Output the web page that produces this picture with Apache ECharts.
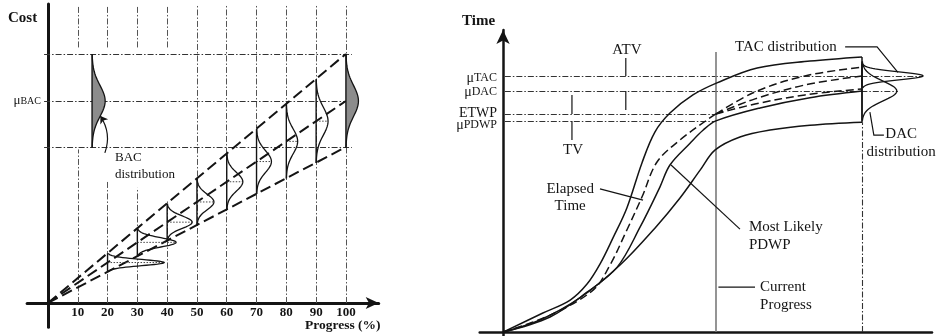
<!DOCTYPE html>
<html>
<head>
<meta charset="utf-8">
<script src="https://cdn.jsdelivr.net/npm/echarts@6/dist/echarts.min.js"></script>
<style>
html,body{margin:0;padding:0;background:#fff;}
#chart{width:936px;height:336px;}
</style>
</head>
<body>
<div id="chart"></div>
<script>
// ---------- Cost vs progress (left panel) ----------
const progressTicks = [10, 20, 30, 40, 50, 60, 70, 80, 90, 100];
const costBAC = 100;          // expected budget at completion
const costUpperEnd = 123.3;   // upper bound at 100 %
const costLowerEnd = 77.2;    // lower bound at 100 %

// cost distributions along progress: position, mean, half spread, peak reach (in % units)
const costDistX      = [20, 30, 40, 50, 60, 70, 80, 90, 100];
const costDistMean   = [20, 30, 40, 50, 60, 70, 80, 90, 100];
const costDistSpread = [4.6, 6.9, 9.2, 11.5, 13.8, 16.1, 18.4, 20.7, 23.1];
const costDistReach  = [19, 13, 8.4, 5.7, 5.4, 5.0, 3.8, 4.0, 4.2];
// BAC distribution drawn next to the cost axis
const bacDist = [14.8, 100, 23.1, 4.4];

// dash-dot grid columns: [progress, from cost, to cost]
const costGridSegments = [
  [10, 0, 76], [10, 126.5, 147.5],
  [20, 0, 60], [20, 126.5, 147.5],
  [30, 0, 57], [30, 126.5, 147.5],
  [40, 0, 51], [40, 126.5, 147.5],
  [50, 0, 147.5], [60, 0, 147.5], [70, 0, 147.5],
  [80, 0, 147.5], [90, 0, 147.5], [100, 0, 147.5]
];
const costLevels = [costUpperEnd, costBAC, costLowerEnd];

// ---------- Time vs progress (right panel) ----------
const currentProgress = 59.3;
const completion = 100;
const muTAC = 84.8, muDAC = 79.8, ETWP = 72.2, muPDWP = 69.9;
const timeLevelValues = [muTAC, muDAC, ETWP, muPDWP];
const timeLevelLabels = ['{m|μ}{s|TAC}', '{m|μ}{s|DAC}', '{e|ETWP}', '{m|μ}{s|PDWP}'];
const timeLevelShift  = [2, 1, -1, 4];

const upperEnvelope = [[0,0],[11.1,6.3],[18.7,10.6],[23.4,15.9],[27,22.5],[30.6,31.1],[34.5,41.1],[38.7,56],[42.3,66.2],[46.5,72.5],[52.9,78.5],[59.6,82.5],[70.8,87.4],[85.5,89.7],[100,91.1]];
const elapsedTime   = [[0,0],[13.1,5.6],[25.1,13.9],[29.8,22.2],[34.5,33.8],[38.7,44.7],[42.9,56.3],[49.3,63.6],[56.8,70.2],[59.3,72.2]];
const forecastHigh  = [[59.3,72.2],[70.2,79.5],[84.1,84.8],[100,87.7]];
const forecastMid   = [[59.3,72.2],[70.2,77.2],[84.1,81.8],[100,84.8]];
const forecastLow   = [[59.3,72.2],[70.2,75.5],[84.1,78.5],[100,80.5]];
const mostLikely    = [[0,0],[13.1,5],[23.4,13.2],[31.8,21.5],[38.2,34.8],[43.7,48],[46.5,55.3],[52.1,62.5],[55.7,66.8],[59.3,69.9],[71.6,74.2],[85.5,77.6],[100,79.8]];
const lowerEnvelope = [[0,0],[10.3,4],[21.4,11.3],[32.6,22.2],[42.3,34.4],[49.3,44.4],[54.9,53.6],[59.1,60.3],[66,64.6],[74.4,66.9],[85.5,68.5],[100,69.5]];

// end-of-project distributions: position, mean, half spread, peak reach
const tacDist = [100, muTAC, 4, 17];
const dacDist = [100, muDAC, 9.8, 9.7];

const SERIF = "'Liberation Serif', 'Times New Roman', serif";
const INK = '#141414';
const DASH_DOT = [6, 2, 1.5, 2];

// bell-shaped distribution glyph laid on its side, growing toward +x
function bellGlyph(params, api) {
  const x0 = api.value(0), mu = api.value(1), half = api.value(2), reach = api.value(3);
  const filled = api.value(4), showMean = api.value(5);
  const sigma = half / 3;
  const pts = [];
  const n = 48;
  for (let i = 0; i <= n; i++) {
    const t = half - 2 * half * i / n;
    pts.push(api.coord([x0 + reach * Math.exp(-t * t / (2 * sigma * sigma)), mu + t]));
  }
  const top = api.coord([x0, mu + half]);
  const bot = api.coord([x0, mu - half]);
  const children = [];
  if (filled) {
    children.push({ type: 'polygon', shape: { points: [top].concat(pts, [bot]) },
      style: { fill: '#8c8c8c', stroke: null } });
  }
  if (showMean) {
    const a = api.coord([x0, mu]), b = api.coord([x0 + reach, mu]);
    children.push({ type: 'line', shape: { x1: a[0], y1: a[1], x2: b[0], y2: b[1] },
      style: { stroke: '#444', lineWidth: 1, lineDash: [1.5, 1.5] } });
  }
  children.push({ type: 'polyline', shape: { points: pts }, style: { stroke: INK, lineWidth: 1.3, fill: null } });
  children.push({ type: 'line', shape: { x1: top[0], y1: top[1], x2: bot[0], y2: bot[1] },
    style: { stroke: INK, lineWidth: 1.4 } });
  return { type: 'group', children: children };
}

// text placed at a data point, shifted by a small pixel offset
function textGlyph(texts, opts) {
  return function (params, api) {
    const i = params.dataIndex;
    const p = api.coord([api.value(0), api.value(1)]);
    const aligns = opts.aligns || [];
    const dys = opts.dys || [];
    return { type: 'text', x: p[0] + (opts.dx || 0), y: p[1] + (opts.dy || 0) + (dys[i] || 0),
      style: { text: texts[i], fontFamily: SERIF, fontSize: opts.size,
               fontWeight: opts.weight || 'normal', fill: INK,
               align: aligns[i] || opts.align || 'left', verticalAlign: 'middle',
               rich: opts.rich } };
  };
}

const costNoteText = ['BAC', 'distribution'];
const costNoteX    = [22.5, 22.5];
const costNoteY    = [71.8, 63.4];

const timeNoteText  = ['ATV', 'TV', 'TAC distribution', 'DAC', 'distribution', 'Elapsed', 'Time',
                       'Most Likely', 'PDWP', 'Current', 'Progress'];
const timeNoteX     = [34.5, 19.5, 64.6, 110.9, 110.9, 18.7, 18.7, 68.5, 68.5, 71.6, 71.6];
const timeNoteY     = [93.4, 60.3, 94.4, 65.6, 59.6, 47.4, 41.7, 34.8, 28.8, 14.9, 8.9];
const timeNoteAlign = ['center', 'center', 'left', 'center', 'center', 'center', 'center',
                       'left', 'left', 'left', 'left'];

function seg(x1, y1, x2, y2) { return { coords: [[x1, y1], [x2, y2]] }; }

const chart = echarts.init(document.getElementById('chart'));

const hiddenAxis = { axisTick: { show: false }, splitLine: { show: false }, axisLabel: { show: false } };

const option = {
  animation: false,
  backgroundColor: '#fff',
  grid: [
    { left: 27.1, top: 4, width: 351.6, height: 323.2, outerBoundsMode: 'none', containLabel: false },
    { left: 479.7, top: 30, width: 452.3, height: 306, outerBoundsMode: 'none', containLabel: false }
  ],
  xAxis: [
    Object.assign({ gridIndex: 0, type: 'value', min: -7, max: 111,
      axisLine: { onZero: true, symbol: ['none', 'arrow'], symbolSize: [9, 13],
                  lineStyle: { color: INK, width: 3 } } }, hiddenAxis),
    Object.assign({ gridIndex: 1, type: 'value', min: -6.5, max: 119.5,
      axisLine: { onZero: true, lineStyle: { color: INK, width: 2.5 } } }, hiddenAxis)
  ],
  yAxis: [
    Object.assign({ gridIndex: 0, type: 'value', min: -12, max: 148,
      axisLine: { onZero: true, lineStyle: { color: INK, width: 3 } } }, hiddenAxis),
    Object.assign({ gridIndex: 1, type: 'value', min: -1.3, max: 100,
      axisLine: { onZero: true, symbol: ['none', 'arrow'], symbolSize: [10, 14],
                  lineStyle: { color: INK, width: 2.5 } } }, hiddenAxis)
  ],
  graphic: [
    { type: 'text', left: 8, top: 11, style: { text: 'Cost', fontFamily: SERIF, fontWeight: 'bold', fontSize: 15, fill: INK } },
    { type: 'text', left: 305, top: 319, style: { text: 'Progress (%)', fontFamily: SERIF, fontWeight: 'bold', fontSize: 13.5, fill: INK } },
    { type: 'text', left: 462, top: 14, style: { text: 'Time', fontFamily: SERIF, fontWeight: 'bold', fontSize: 15, fill: INK } }
  ],
  series: [
    // ---- left panel ----
    { type: 'lines', coordinateSystem: 'cartesian2d', xAxisIndex: 0, yAxisIndex: 0, silent: true,
      lineStyle: { color: '#555', width: 1, type: DASH_DOT, opacity: 1 },
      data: costGridSegments.map(s => seg(s[0], s[1], s[0], s[2])) },
    { type: 'lines', coordinateSystem: 'cartesian2d', xAxisIndex: 0, yAxisIndex: 0, silent: true,
      lineStyle: { color: '#333', width: 1.2, type: DASH_DOT, opacity: 1 },
      data: costLevels.map(v => seg(-1.3, v, 102, v)) },
    { type: 'lines', coordinateSystem: 'cartesian2d', xAxisIndex: 0, yAxisIndex: 0, silent: true,
      lineStyle: { color: INK, width: 2, type: [11, 5], opacity: 1 },
      data: [seg(0, 0, 100, costUpperEnd), seg(0, 0, 100, costBAC), seg(0, 0, 100, costLowerEnd)] },
    { type: 'custom', xAxisIndex: 0, yAxisIndex: 0, silent: true, renderItem: bellGlyph,
      data: costDistX.map((x, i) => [x, costDistMean[i], costDistSpread[i], costDistReach[i], x === 100 ? 1 : 0, x === 100 ? 0 : 1]) },
    { type: 'custom', xAxisIndex: 0, yAxisIndex: 0, silent: true, renderItem: bellGlyph,
      data: [bacDist.concat([1, 0])] },
    { type: 'lines', coordinateSystem: 'cartesian2d', xAxisIndex: 0, yAxisIndex: 0, silent: true,
      symbol: ['none', 'arrow'], symbolSize: 7,
      lineStyle: { color: INK, width: 1.2, curveness: -0.25, opacity: 1 },
      data: [seg(19.1, 74.3, 17.6, 92.5)] },
    // progress tick labels under the axis
    { type: 'custom', xAxisIndex: 0, yAxisIndex: 0, silent: true,
      renderItem: textGlyph(progressTicks.map(String), { size: 13, weight: 'bold', align: 'center', dy: 10 }),
      data: progressTicks.map(v => [v, 0]) },
    // μBAC level label beside the cost axis
    { type: 'custom', xAxisIndex: 0, yAxisIndex: 0, silent: true,
      renderItem: textGlyph(['{m|μ}{s|BAC}'], { size: 13, align: 'right', dx: -7,
        rich: { m: { fontFamily: SERIF, fontSize: 13, fill: INK }, s: { fontFamily: SERIF, fontSize: 10, fill: INK } } }),
      data: [[0, costBAC]] },
    { type: 'custom', xAxisIndex: 0, yAxisIndex: 0, silent: true,
      renderItem: textGlyph(costNoteText, { size: 13 }),
      data: costNoteX.map((x, i) => [x, costNoteY[i]]) },

    // ---- right panel ----
    { type: 'lines', coordinateSystem: 'cartesian2d', xAxisIndex: 1, yAxisIndex: 1, silent: true,
      lineStyle: { color: '#333', width: 1.1, type: DASH_DOT, opacity: 1 },
      data: [seg(0.5, muTAC, 117, muTAC), seg(0.5, muDAC, 110, muDAC),
             seg(0.5, ETWP, currentProgress, ETWP), seg(0.5, muPDWP, currentProgress, muPDWP),
             seg(completion, 0, completion, 69.5)] },
    { type: 'lines', coordinateSystem: 'cartesian2d', xAxisIndex: 1, yAxisIndex: 1, silent: true,
      lineStyle: { color: '#7a7a7a', width: 1.6, opacity: 1 },
      data: [seg(currentProgress, 0, currentProgress, 92.7)] },
    { type: 'lines', coordinateSystem: 'cartesian2d', xAxisIndex: 1, yAxisIndex: 1, silent: true,
      lineStyle: { color: INK, width: 1.5, opacity: 1 },
      data: [seg(completion, 69.5, completion, 91.1)] },
    { type: 'line', xAxisIndex: 1, yAxisIndex: 1, data: upperEnvelope, smooth: 0.35, symbol: 'none', silent: true,
      lineStyle: { color: INK, width: 1.5 } },
    { type: 'line', xAxisIndex: 1, yAxisIndex: 1, data: lowerEnvelope, smooth: 0.35, symbol: 'none', silent: true,
      lineStyle: { color: INK, width: 1.5 } },
    { type: 'line', xAxisIndex: 1, yAxisIndex: 1, data: mostLikely, smooth: 0.35, symbol: 'none', silent: true,
      lineStyle: { color: INK, width: 1.5 } },
    { type: 'line', xAxisIndex: 1, yAxisIndex: 1, data: elapsedTime, smooth: 0.35, symbol: 'none', silent: true,
      lineStyle: { color: INK, width: 1.5, type: [8, 4] } },
    { type: 'line', xAxisIndex: 1, yAxisIndex: 1, data: forecastHigh, smooth: 0.35, symbol: 'none', silent: true,
      lineStyle: { color: INK, width: 1.5, type: [8, 4] } },
    { type: 'line', xAxisIndex: 1, yAxisIndex: 1, data: forecastMid, smooth: 0.35, symbol: 'none', silent: true,
      lineStyle: { color: INK, width: 1.5, type: [8, 4] } },
    { type: 'line', xAxisIndex: 1, yAxisIndex: 1, data: forecastLow, smooth: 0.35, symbol: 'none', silent: true,
      lineStyle: { color: INK, width: 1.5, type: [8, 4] } },
    { type: 'custom', xAxisIndex: 1, yAxisIndex: 1, silent: true, renderItem: bellGlyph,
      data: [tacDist.concat([0, 0]), dacDist.concat([0, 0])] },
    // annotation arrows
    { type: 'lines', coordinateSystem: 'cartesian2d', xAxisIndex: 1, yAxisIndex: 1, silent: true, polyline: true,
      symbol: ['none', 'arrow'], symbolSize: 7,
      lineStyle: { color: INK, width: 1.2, opacity: 1 },
      data: [
        { coords: [[34.2, 90.7], [34.2, muTAC]] },
        { coords: [[34.2, 73.5], [34.2, muDAC]] },
        { coords: [[19.2, 78.5], [19.2, ETWP]] },
        { coords: [[19.2, 63.6], [19.2, muPDWP]] },
        { coords: [[27, 47.4], [39, 43.7]] },
        { coords: [[66, 34.1], [46.8, 55.3]] },
        { coords: [[70.2, 14.9], [60, 14.9]] },
        { coords: [[95.3, 94.4], [104.2, 94.4], [110, 86]] },
        { coords: [[106.1, 65.2], [103.3, 65.2], [102.2, 72.8]] }
      ] },
    // level labels beside the time axis
    { type: 'custom', xAxisIndex: 1, yAxisIndex: 1, silent: true,
      renderItem: textGlyph(timeLevelLabels, { size: 14, align: 'right', dx: -6, dys: timeLevelShift,
        rich: { m: { fontFamily: SERIF, fontSize: 14, fill: INK },
                s: { fontFamily: SERIF, fontSize: 12, fill: INK },
                e: { fontFamily: SERIF, fontSize: 14, fill: INK } } }),
      data: timeLevelValues.map(v => [0, v]) },
    { type: 'custom', xAxisIndex: 1, yAxisIndex: 1, silent: true,
      renderItem: textGlyph(timeNoteText, { size: 15, aligns: timeNoteAlign }),
      data: timeNoteX.map((x, i) => [x, timeNoteY[i]]) }
  ]
};

chart.setOption(option);
</script>
</body>
</html>
